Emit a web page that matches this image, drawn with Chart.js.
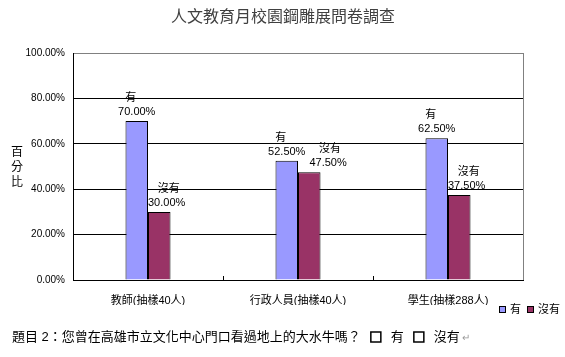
<!DOCTYPE html>
<html>
<head>
<meta charset="utf-8">
<script src="https://cdn.jsdelivr.net/npm/chart.js@4/dist/chart.umd.min.js"></script>
<style>
  html, body { margin: 0; padding: 0; background: #fff; }
  #wrap { width: 565px; height: 357px; position: relative; }
</style>
</head>
<body>
<div id="wrap"><canvas id="c" width="565" height="357"></canvas></div>
<script>
const titleText = '人文教育月校園鋼雕展問卷調查';
const categories = ['教師(抽樣40人)', '行政人員(抽樣40人)', '學生(抽樣288人)'];
const seriesNames = ['有', '沒有'];
const yesValues = [70.0, 52.5, 62.5];
const noValues = [30.0, 47.5, 37.5];
const yTicks = [0, 20, 40, 60, 80, 100];
const yAxisTitle = ['百', '分', '比'];
const questionText = '題目 2：您曾在高雄市立文化中心門口看過地上的大水牛嗎？';
const optionTexts = ['有', '沒有'];

const FONT = '"Liberation Sans", "Noto Sans CJK TC", sans-serif';
const COLORS = ['#9999FF', '#993366'];

const extras = {
  id: 'extras',
  afterDraw(chart) {
    const ctx = chart.ctx;
    const area = chart.chartArea;
    const xs = chart.scales.x;
    ctx.save();
    // right border
    ctx.strokeStyle = '#808080';
    ctx.lineWidth = 1;
    ctx.beginPath();
    ctx.moveTo(Math.round(area.right) + 0.5, area.top);
    ctx.lineTo(Math.round(area.right) + 0.5, area.bottom);
    ctx.stroke();
    // inward tick marks between categories
    ctx.strokeStyle = '#000';
    for (let i = 0; i < categories.length - 1; i++) {
      const bx = Math.round((xs.getPixelForValue(i) + xs.getPixelForValue(i + 1)) / 2) + 0.5;
      ctx.beginPath();
      ctx.moveTo(bx, area.bottom - 4);
      ctx.lineTo(bx, area.bottom);
      ctx.stroke();
    }
    // title
    ctx.fillStyle = '#404040';
    ctx.font = '16px ' + FONT;
    ctx.textAlign = 'center';
    ctx.textBaseline = 'middle';
    ctx.fillText(titleText, 283, 18);
    // y axis title (vertical stacked)
    ctx.fillStyle = '#000';
    ctx.font = '12px ' + FONT;
    yAxisTitle.forEach((ch, i) => ctx.fillText(ch, 17, 153 + i * 15));
    // data labels
    const m0 = chart.getDatasetMeta(0);
    const m1 = chart.getDatasetMeta(1);
    ctx.font = '11px ' + FONT;
    ctx.textBaseline = 'alphabetic';
    ctx.textAlign = 'left';
    for (let i = 0; i < categories.length; i++) {
      const b0 = m0.data[i], b1 = m1.data[i];
      const t0 = yesValues[i].toFixed(2) + '%';
      const t1 = noValues[i].toFixed(2) + '%';
      const w0 = ctx.measureText(t0).width;
      const w1 = ctx.measureText(t1).width;
      // series 1: centred on bar
      const x0 = b0.x - w0 / 2;
      const y0 = b0.y - 6;
      ctx.fillText(t0, x0, y0);
      const n0 = ctx.measureText(seriesNames[0]).width;
      ctx.fillText(seriesNames[0], b0.x - 6 - n0 / 2, y0 - 14);
      // series 2: starts at bar left, moved right if colliding with series 1 label
      let x1 = b1.x - b1.width / 2;
      const y1 = b1.y - 6;
      if (Math.abs(y1 - y0) < 13 && x1 < x0 + w0 + 4) x1 = x0 + w0 + 4;
      ctx.fillText(t1, x1, y1);
      const n1 = ctx.measureText(seriesNames[1]).width;
      ctx.fillText(seriesNames[1], x1 + w1 / 2 + 2 - n1 / 2, y1 - 14);
    }
    // legend
    ctx.textBaseline = 'middle';
    ctx.textAlign = 'left';
    ctx.font = '11px ' + FONT;
    let lx = 499;
    chart.data.datasets.forEach((ds, di) => {
      ctx.fillStyle = ds.backgroundColor;
      ctx.fillRect(lx, 306, 7, 7);
      ctx.strokeStyle = '#000';
      ctx.strokeRect(lx + 0.5, 306.5, 6, 6);
      ctx.fillStyle = '#000';
      ctx.fillText(ds.label, lx + 11, 310);
      lx += 11 + ctx.measureText(ds.label).width + 6;
    });
    // bottom question line
    ctx.font = '13px ' + FONT;
    ctx.fillStyle = '#000';
    ctx.fillText(questionText, 12, 337);
    let qx = 12 + ctx.measureText(questionText).width + 10;
    optionTexts.forEach((t, i) => {
      ctx.lineWidth = 1.5;
      ctx.strokeStyle = '#000';
      ctx.strokeRect(qx, 332, 10, 10);
      qx += 20;
      ctx.fillText(t, qx, 337);
      qx += ctx.measureText(t).width + 10;
    });
    ctx.fillStyle = '#999';
    ctx.font = '10px ' + FONT;
    ctx.fillText('↵', qx - 8, 338);
    ctx.restore();
  }
};

new Chart(document.getElementById('c'), {
  type: 'bar',
  data: {
    labels: categories,
    datasets: [
      { label: seriesNames[0], data: yesValues, backgroundColor: COLORS[0], borderColor: '#000', borderWidth: 1, categoryPercentage: 0.3, barPercentage: 1 },
      { label: seriesNames[1], data: noValues, backgroundColor: COLORS[1], borderColor: '#000', borderWidth: 1, categoryPercentage: 0.3, barPercentage: 1 }
    ]
  },
  options: {
    responsive: false,
    animation: false,
    devicePixelRatio: 1,
    layout: { padding: { top: 53, right: 42, bottom: 52, left: 0 } },
    plugins: { legend: { display: false }, title: { display: false }, tooltip: { enabled: false } },
    scales: {
      x: {
        grid: { display: false, drawTicks: false },
        border: { display: true, color: '#000', width: 1 },
        ticks: { color: '#000', font: { family: FONT, size: 11 }, padding: 14, maxRotation: 0 },
        afterFit: s => { s.height = 25; }
      },
      y: {
        min: 0, max: 100,
        afterBuildTicks: s => { s.ticks = yTicks.map(v => ({ value: v })); },
        grid: { color: c => (c.tick && c.tick.value === 100 ? '#808080' : '#000'), drawTicks: false, lineWidth: 1 },
        border: { display: true, color: '#000', width: 1 },
        ticks: { color: '#000', font: { family: FONT, size: 10 }, padding: 8, callback: v => v.toFixed(2) + '%' },
        afterFit: s => { s.width = 73; }
      }
    }
  },
  plugins: [extras]
});
</script>
</body>
</html>
